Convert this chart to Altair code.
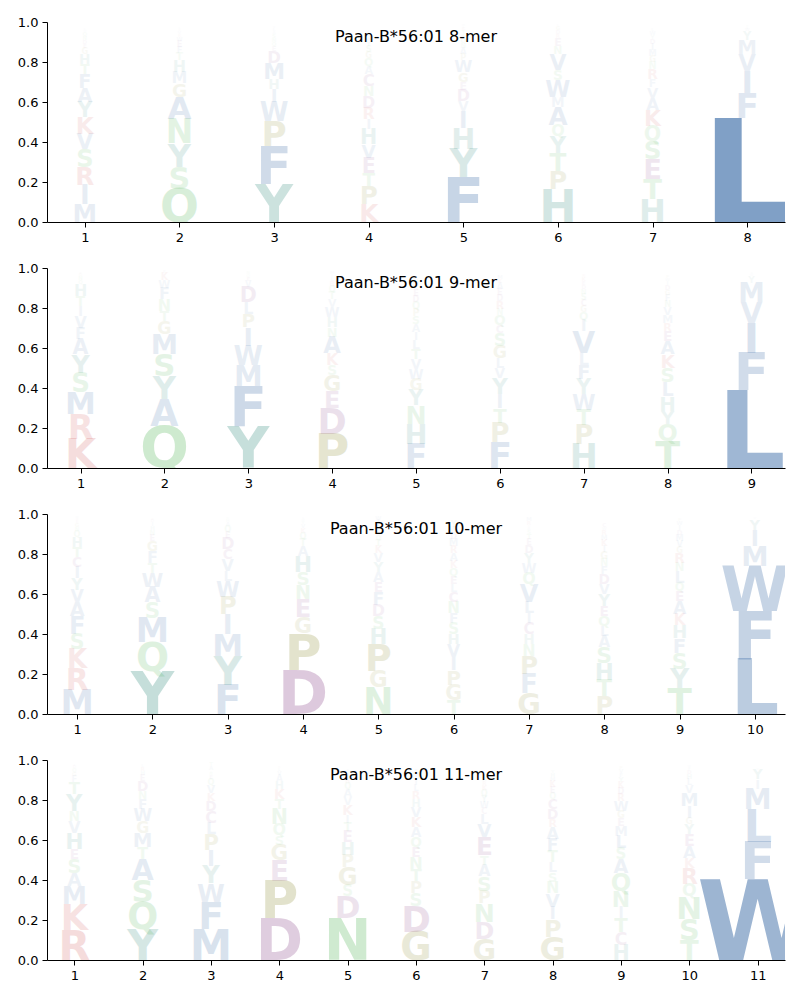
import altair as alt
import pandas as pd

TITLES = ["Paan-B*56:01 8-mer", "Paan-B*56:01 9-mer",
          "Paan-B*56:01 10-mer", "Paan-B*56:01 11-mer"]

# letters per position, listed bottom -> top, with their heights (probabilities)
LETTERS_8 = ["MIRSVKYAFTHGEDNQWL", "QSYNAGMHTFEWRVKL", "YFPWIHMDEQNSALV",
             "KPTEVHIRDNCAQGSYWML", "FYHIVDEGWPANQSTKLM", "HPTYQAMWSVNERDGL",
             "HTESQKAVFRNGMIDYWL", "LFIVMYWAT"]
HEIGHTS_8 = [
    [.09, .095, .09, .088, .078, .085, .075, .07, .07, .05, .05, .03, .02, .02, .02, .02, .01, .01],
    [.167, .11, .117, .12, .113, .067, .058, .058, .037, .03, .03, .02, .015, .015, .01, .01],
    [.19, .19, .125, .095, .067, .05, .08, .06, .025, .02, .02, .02, .015, .015, .01],
    [.09, .09, .067, .075, .067, .075, .05, .058, .058, .05, .06, .04, .04, .03, .03, .025, .02, .02, .015],
    [.225, .14, .105, .083, .05, .058, .04, .047, .06, .03, .03, .025, .025, .02, .02, .015, .01, .01],
    [.163, .093, .09, .083, .058, .09, .05, .083, .05, .08, .04, .04, .02, .02, .02, .01],
    [.117, .1, .1, .09, .075, .08, .06, .053, .04, .05, .035, .03, .03, .03, .025, .02, .02, .015],
    [.52, .125, .112, .083, .072, .042, .015, .01, .01],
]

LETTERS_9 = ["KRMSYAFVITHQNGE", "QAYSMGTNFWKE", "YFMWIPLDVEQN",
             "PDEGSKANHWVTQRLIM", "FHNYGWVTLIASPQDEKMR", "FPTIYVLGSCQNRDEAKM",
             "HPTWYFLVIQGCSNDEKR", "TQYHLSKAERMVNFGDIWP", "LFIVMYWA"]
HEIGHTS_9 = [
    [.147, .122, .113, .095, .092, .075, .058, .058, .05, .05, .058, .02, .02, .015, .01],
    [.21, .133, .117, .112, .1, .063, .05, .058, .058, .04, .035, .015],
    [.21, .2, .105, .097, .092, .067, .058, .075, .03, .02, .015, .015],
    [.172, .128, .087, .08, .05, .057, .083, .047, .05, .05, .04, .035, .03, .025, .02, .015, .015],
    [.122, .1, .092, .075, .058, .05, .05, .05, .045, .04, .04, .04, .035, .035, .03, .03, .025, .025, .02],
    [.13, .097, .072, .07, .08, .05, .05, .063, .063, .04, .05, .03, .04, .03, .03, .03, .02, .02],
    [.122, .095, .075, .078, .075, .07, .06, .108, .058, .04, .03, .03, .03, .025, .02, .02, .02, .015],
    [.133, .087, .067, .072, .07, .072, .067, .067, .05, .04, .04, .04, .03, .03, .025, .025, .02, .015, .015],
    [.39, .187, .15, .103, .097, .033, .01, .01],
]

LETTERS_10 = ["MRKSFAVYICTHQNGEDW", "YQMSAWTFGENHIDR", "FYMIPWLVCDEQAHN",
              "DPGENSHATQKVYWL", "NGPHSDFEAYVKTQRLMIW", "TGPIVHSFNCLEQKARMDWY",
              "GFPNHCILVQWYDETSAKRM", "PTHSALQEYVDFNGIKMRWC",
              "TYSFHKAEQLNRGVMDIWP", "LFWMIYV"]
HEIGHTS_10 = [
    [.122, .108, .095, .075, .088, .07, .063, .058, .058, .05, .05, .05, .03, .02, .02, .015, .01, .01],
    [.217, .142, .122, .078, .075, .072, .05, .058, .05, .03, .025, .02, .02, .015, .01],
    [.147, .142, .113, .097, .088, .078, .05, .058, .05, .058, .03, .03, .02, .015, .01],
    [.222, .183, .08, .088, .07, .067, .08, .05, .035, .03, .025, .02, .015, .01, .01],
    [.133, .083, .133, .078, .062, .058, .063, .05, .05, .05, .045, .035, .03, .025, .02, .015, .01, .03, .02],
    [.072, .075, .073, .067, .062, .053, .055, .05, .055, .05, .04, .04, .04, .035, .04, .035, .035, .03, .03, .03],
    [.105, .095, .09, .058, .05, .055, .05, .058, .088, .058, .05, .05, .04, .03, .025, .02, .015, .01, .02, .02],
    [.088, .083, .083, .08, .055, .05, .053, .05, .06, .05, .05, .04, .035, .035, .03, .03, .025, .025, .015, .02],
    [.13, .097, .08, .072, .067, .055, .063, .05, .042, .058, .042, .05, .03, .03, .03, .025, .025, .02, .015],
    [.277, .237, .228, .1, .08, .053, .01],
]

LETTERS_11 = ["RKMASEHVNYTFGQDI", "YQSATMGWFNDEHRL", "MFWYIPLCDKVQENSAT",
              "DPEGSQNTKHAVLR", "NDSGPHETIKVAQRYLF", "GDSPTNEQAKVHRLIMF",
              "GDNPSATEVLCWYQKRHFI", "GPIVNSLTFARDCQEKMHY",
              "HCTINQASLMEGWRDKYFVP", "TSNQRKAEYGIMVLHDFW", "WFLMIYV"]
HEIGHTS_11 = [
    [.15, .128, .092, .067, .07, .05, .08, .058, .05, .083, .06, .03, .02, .02, .015, .01],
    [.155, .133, .113, .105, .058, .072, .058, .063, .05, .04, .05, .03, .02, .02, .015],
    [.155, .137, .092, .088, .078, .078, .058, .058, .05, .04, .04, .03, .02, .015, .01, .02, .02],
    [.208, .188, .103, .078, .047, .058, .075, .05, .05, .04, .03, .02, .015, .01],
    [.208, .113, .055, .088, .063, .063, .055, .042, .04, .05, .04, .04, .03, .025, .02, .015, .01],
    [.14, .13, .065, .06, .06, .06, .05, .05, .05, .05, .05, .04, .04, .03, .03, .03, .02],
    [.105, .087, .092, .063, .072, .058, .047, .09, .067, .05, .03, .03, .03, .03, .025, .02, .02, .015, .015],
    [.117, .087, .063, .067, .058, .047, .05, .055, .062, .058, .04, .05, .05, .03, .03, .03, .02, .02, .015],
    [.075, .063, .072, .055, .08, .088, .07, .055, .062, .05, .04, .035, .05, .035, .03, .03, .025, .02, .02, .015],
    [.1, .105, .113, .063, .08, .05, .06, .058, .05, .033, .058, .067, .04, .03, .025, .02, .015, .01],
    [.403, .187, .163, .103, .047, .05, .01],
]

AA_ORDER = list("AVLIMFWYHQNSTKRDECPG")
AA_COLORS = (["#255b9d"] * 7 + ["#137a6a"] * 2 + ["#33a838"] * 4 +
             ["#c83737"] * 2 + ["#7a2a78"] * 3 + ["#7a7a10"] * 2)

PLOT_W, PLOT_H = 738, 200


def panel(title, letters, heights):
    rows = []
    for pos, (lets, hs) in enumerate(zip(letters, heights), start=1):
        base = 0.0
        for aa, h in zip(lets, hs):
            rows.append({"pos": pos, "aa": aa, "h": h, "y0": base})
            base += h
    df = pd.DataFrame(rows)
    n = len(letters)
    x = alt.X("pos:Q",
              scale=alt.Scale(domain=[0.6, n + 0.4], nice=False, zero=False),
              axis=alt.Axis(values=list(range(1, n + 1)), format="d", title=None))
    y = alt.Y("y0:Q", scale=alt.Scale(domain=[0, 1], nice=False),
              axis=alt.Axis(values=[0, 0.2, 0.4, 0.6, 0.8, 1.0], format=".1f", title=None))
    logo = alt.Chart(df).mark_text(
        font="DejaVu Sans", fontWeight="bold", baseline="alphabetic",
        align="center", clip=True
    ).encode(
        x=x, y=y, text="aa:N",
        size=alt.Size("h:Q", scale=alt.Scale(domain=[0, 1], range=[0, PLOT_H / 0.729]), legend=None),
        color=alt.Color("aa:N", scale=alt.Scale(domain=AA_ORDER, range=AA_COLORS), legend=None),
        opacity=alt.Opacity("h:Q", scale=alt.Scale(domain=[0, 0.9], range=[0, 1], clamp=True), legend=None),
    )
    ttl = alt.Chart(pd.DataFrame({"t": [title]})).mark_text(
        font="DejaVu Sans", fontSize=16, color="black", align="center", baseline="middle"
    ).encode(text="t:N", x=alt.value(PLOT_W / 2), y=alt.value(15))
    return alt.layer(logo, ttl).properties(width=PLOT_W, height=PLOT_H)


chart = alt.vconcat(
    panel(TITLES[0], LETTERS_8, HEIGHTS_8),
    panel(TITLES[1], LETTERS_9, HEIGHTS_9),
    panel(TITLES[2], LETTERS_10, HEIGHTS_10),
    panel(TITLES[3], LETTERS_11, HEIGHTS_11),
    spacing=18,
).resolve_scale(color="independent", size="independent", opacity="independent").configure_view(
    stroke=None
).configure_axis(
    grid=False, domainColor="black", tickColor="black", labelColor="black",
    labelFont="DejaVu Sans", labelFontSize=13, tickSize=5, domainWidth=1,
    tickWidth=1, labelPadding=4,
).properties(padding={"left": 9, "top": 8, "right": 5, "bottom": 5})

chart.save("out.html", embed_options={"renderer": "svg", "actions": False})
